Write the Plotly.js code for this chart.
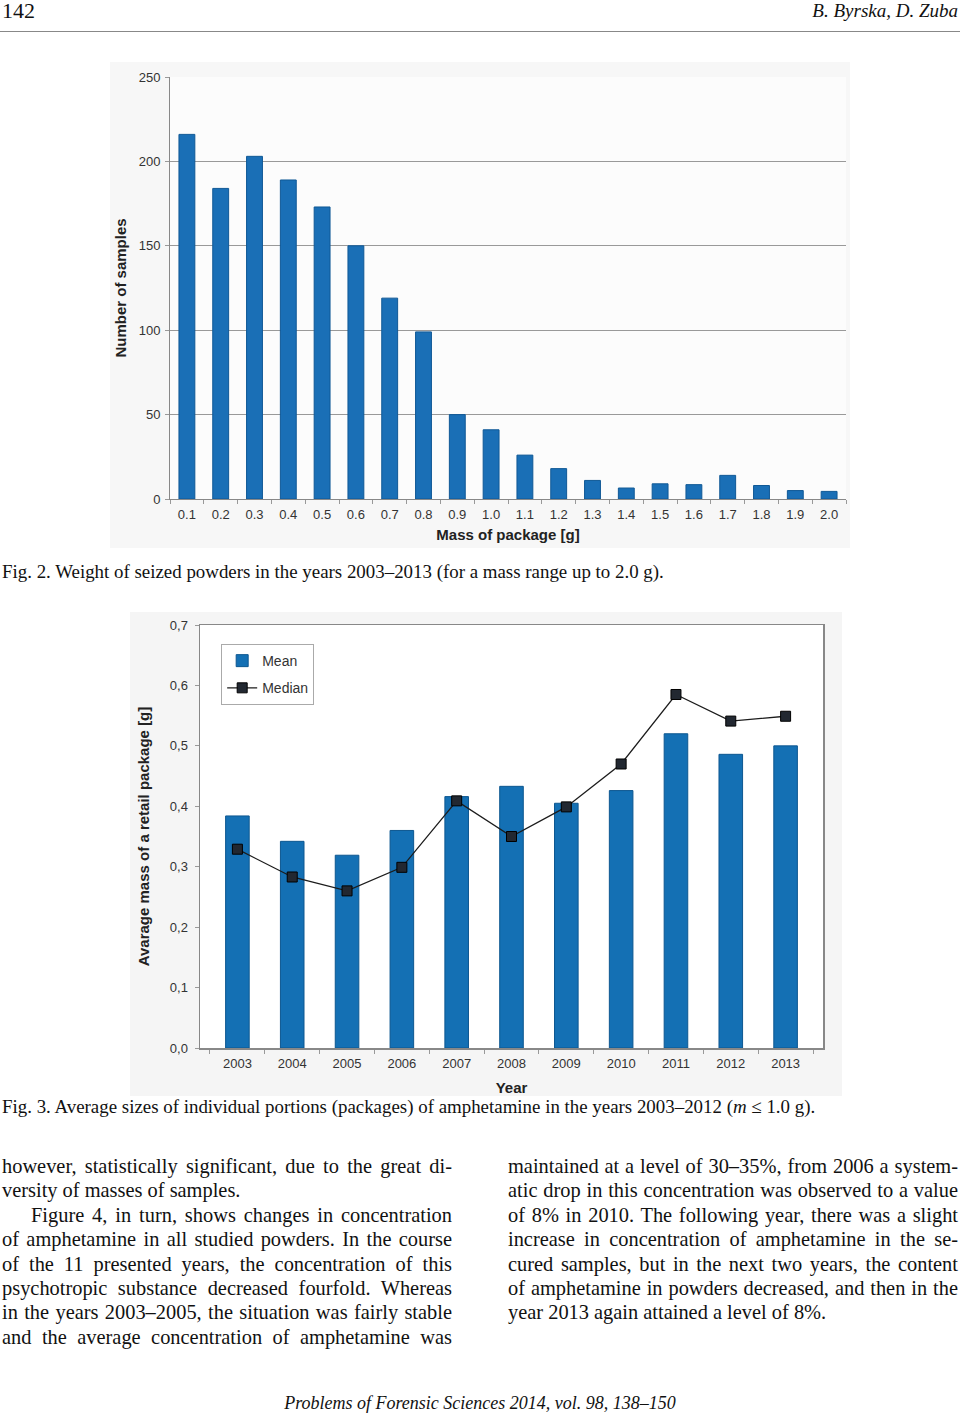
<!DOCTYPE html>
<html>
<head>
<meta charset="utf-8">
<script src="https://cdn.plot.ly/plotly-3.0.1.min.js"></script>
<style>
  body { margin: 0; background: #fff; width: 960px; height: 1417px; position: relative; overflow: hidden;
         font-family: "Liberation Serif", "Times New Roman", serif; color: #111; }
  .abs { position: absolute; }
  #hdrLine { left: 0; top: 31px; width: 960px; height: 0; border-top: 1.5px solid #888; }
  .pageNo { left: 2px; top: -2px; font-size: 22px; }
  .authors { right: 2px; top: 0px; font-size: 19px; font-style: italic; }
  .caption { left: 2px; font-size: 18.9px; white-space: nowrap; }
  .col { width: 450px; font-size: 20.4px; line-height: 24.4px; }
  .col div { text-align: justify; text-align-last: justify; white-space: nowrap; }
  .col div.last { text-align-last: left; }
  .col div.ind { text-indent: 29px; }
  .footer { left: 0; width: 960px; text-align: center; top: 1393px; font-size: 18px; font-style: italic; }
  #fig2 { left: 110px; top: 62px; width: 740px; height: 486px; }
  #fig3 { left: 130px; top: 612px; width: 712px; height: 484px; }
</style>
</head>
<body>
<div class="abs pageNo">142</div>
<div class="abs authors">B. Byrska, D. Zuba</div>
<div class="abs" id="hdrLine"></div>

<div class="abs" id="fig2"></div>
<div class="abs caption" style="top:561px">Fig. 2. Weight of seized powders in the years 2003–2013 (for a mass range up to 2.0 g).</div>

<div class="abs" id="fig3"></div>
<div class="abs caption" style="top:1096px">Fig. 3. Average sizes of individual portions (packages) of amphetamine in the years 2003–2012 (<i>m</i> ≤ 1.0 g).</div>

<div class="abs col" style="left:2px; top:1154px">
  <div>however, statistically significant, due to the great di-</div>
  <div class="last">versity of masses of samples.</div>
  <div class="ind">Figure 4, in turn, shows changes in concentration</div>
  <div>of amphetamine in all studied powders. In the course</div>
  <div>of the 11 presented years, the concentration of this</div>
  <div>psychotropic substance decreased fourfold. Whereas</div>
  <div>in the years 2003–2005, the situation was fairly stable</div>
  <div>and the average concentration of amphetamine was</div>
</div>
<div class="abs col" style="left:508px; top:1154px">
  <div>maintained at a level of 30–35%, from 2006 a system-</div>
  <div>atic drop in this concentration was observed to a value</div>
  <div>of 8% in 2010. The following year, there was a slight</div>
  <div>increase in concentration of amphetamine in the se-</div>
  <div>cured samples, but in the next two years, the content</div>
  <div>of amphetamine in powders decreased, and then in the</div>
  <div class="last">year 2013 again attained a level of 8%.</div>
</div>

<div class="abs footer">Problems of Forensic Sciences 2014, vol. 98, 138–150</div>

<script>
// Fig. 2 - number of samples per package mass
const massLabels = ['0.1', '0.2', '0.3', '0.4', '0.5', '0.6', '0.7', '0.8', '0.9', '1.0',
                    '1.1', '1.2', '1.3', '1.4', '1.5', '1.6', '1.7', '1.8', '1.9', '2.0'];
const sampleCounts = [216, 184, 203, 189, 173, 150, 119, 99, 50, 41,
                      26, 18, 11, 6.5, 9, 8.5, 14, 8, 5, 4.5];

// Fig. 3 - mean and median package mass per year
const years = ['2003', '2004', '2005', '2006', '2007', '2008', '2009', '2010', '2011', '2012', '2013'];
const meanMass = [0.384, 0.342, 0.319, 0.360, 0.416, 0.433, 0.405, 0.426, 0.520, 0.486, 0.500];
const medianMass = [0.329, 0.283, 0.260, 0.299, 0.409, 0.350, 0.399, 0.470, 0.585, 0.541, 0.549];

const tickFont = {family: 'Liberation Sans, Arial, sans-serif', size: 13, color: '#333'};
const titleFont = {family: 'Liberation Sans, Arial, sans-serif', size: 15, color: '#222', weight: 'bold'};

Plotly.newPlot('fig2', [{
    x: massLabels,
    y: sampleCounts,
    type: 'bar',
    width: 0.47,
    marker: {color: '#1a6fb6', line: {color: '#105996', width: 1}},
    hoverinfo: 'x+y'
}], {
    width: 740,
    height: 486,
    margin: {l: 60, r: 4, t: 15, b: 49},
    paper_bgcolor: '#f7f7f7',
    plot_bgcolor: '#fcfcfc',
    showlegend: false,
    font: tickFont,
    xaxis: {
        type: 'category',
        tickfont: tickFont,
        ticks: 'outside',
        tickson: 'boundaries',
        ticklen: 4,
        ticklabelstandoff: 3,
        tickcolor: '#999',
        showline: true,
        linecolor: '#888',
        showgrid: false,
        automargin: false,
        title: {text: 'Mass of package [g]', font: titleFont, standoff: 8}
    },
    yaxis: {
        range: [0, 250],
        tickvals: [0, 50, 100, 150, 200, 250],
        tickfont: tickFont,
        ticks: 'outside',
        ticklen: 4,
        ticklabelstandoff: 2,
        tickcolor: '#999',
        showline: true,
        linecolor: '#888',
        gridcolor: '#999',
        gridwidth: 1,
        zeroline: false,
        automargin: false,
        title: {text: 'Number of samples', font: titleFont, standoff: 8}
    },
    bargap: 0.5
}, {staticPlot: true, displayModeBar: false});

Plotly.newPlot('fig3', [{
    x: years,
    y: meanMass,
    type: 'bar',
    name: 'Mean',
    legendgroup: 'a',
    width: 0.43,
    marker: {color: '#1470b4', line: {color: '#0d5790', width: 1}}
}, {
    x: years,
    y: medianMass,
    type: 'scatter',
    mode: 'lines+markers',
    name: 'Median',
    legendgroup: 'b',
    line: {color: '#1c1c1c', width: 1.3},
    marker: {symbol: 'square', size: 10, color: '#222831', line: {color: '#000', width: 1}}
}], {
    width: 712,
    height: 484,
    margin: {l: 70, r: 19, t: 13, b: 48},
    paper_bgcolor: '#f5f5f5',
    plot_bgcolor: '#ffffff',
    separators: ',.',
    font: tickFont,
    showlegend: true,
    legend: {
        x: 0.034, y: 0.955, xanchor: 'left', yanchor: 'top',
        bgcolor: '#ffffff',
        bordercolor: '#aaa',
        borderwidth: 1,
        font: {family: 'Liberation Sans, Arial, sans-serif', size: 14, color: '#333'},
        itemwidth: 30,
        traceorder: 'grouped',
        tracegroupgap: 6
    },
    xaxis: {
        type: 'category',
        tickfont: tickFont,
        ticks: 'outside',
        tickson: 'boundaries',
        ticklen: 4,
        ticklabelstandoff: 3,
        tickcolor: '#999',
        showline: true,
        mirror: true,
        linecolor: '#888',
        linewidth: 1.5,
        showgrid: false,
        automargin: false,
        title: {text: 'Year', font: titleFont, standoff: 12}
    },
    yaxis: {
        range: [0, 0.7],
        tickvals: [0, 0.1, 0.2, 0.3, 0.4, 0.5, 0.6, 0.7],
        tickformat: '.1f',
        tickfont: tickFont,
        ticks: 'outside',
        ticklen: 4,
        ticklabelstandoff: 4,
        tickcolor: '#999',
        showline: true,
        mirror: true,
        linecolor: '#888',
        linewidth: 1.5,
        showgrid: false,
        zeroline: false,
        automargin: false,
        title: {text: 'Avarage mass of a retail package [g]', font: titleFont, standoff: 16}
    }
}, {staticPlot: true, displayModeBar: false});
</script>
</body>
</html>
